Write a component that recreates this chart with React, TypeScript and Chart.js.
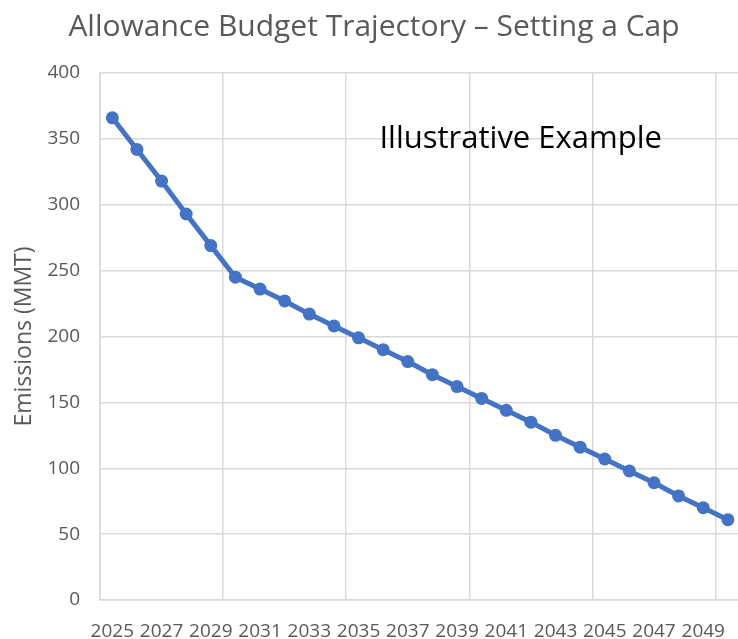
import React, { useEffect, useRef } from "react";
import { Chart, registerables } from "chart.js";

Chart.register(...registerables);

const years: string[] = [
  "2025", "2026", "2027", "2028", "2029", "2030", "2031", "2032", "2033",
  "2034", "2035", "2036", "2037", "2038", "2039", "2040", "2041", "2042",
  "2043", "2044", "2045", "2046", "2047", "2048", "2049", "2050",
];

const emissions: number[] = [
  366, 342, 318, 293, 269, 245, 236, 227, 217, 208, 199, 190, 181, 171, 162,
  153, 144, 135, 125, 116, 107, 98, 89, 79, 70, 61,
];

const yTicks: number[] = [0, 50, 100, 150, 200, 250, 300, 350, 400];

const chartTitle = "Allowance Budget Trajectory \u2013 Setting a Cap";
const yAxisTitle = "Emissions (MMT)";
const noteText = "Illustrative Example";
const noteAnchor = { index: 10.85, value: 350 };

const FONT = "'Open Sans', 'Noto Sans', sans-serif";
const GRID = "#d9d9d9";
const TEXT = "#595959";
const BLUE = "#4472C4";

const notePlugin = {
  id: "note",
  afterDraw(chart: any) {
    const { ctx, scales } = chart;
    const x = scales.x.getPixelForValue(noteAnchor.index);
    const y = scales.y.getPixelForValue(noteAnchor.value);
    ctx.save();
    ctx.font = `31px ${FONT}`;
    ctx.fillStyle = "#000000";
    ctx.textAlign = "left";
    ctx.textBaseline = "middle";
    ctx.fillText(noteText, x, y);
    ctx.restore();
  },
};

export default function App() {
  const ref = useRef<HTMLCanvasElement | null>(null);

  useEffect(() => {
    if (!ref.current) return;
    const chart = new Chart(ref.current, {
      type: "line",
      data: {
        labels: years,
        datasets: [
          {
            data: emissions,
            borderColor: BLUE,
            backgroundColor: BLUE,
            borderWidth: 5,
            pointRadius: 6.5,
            pointBackgroundColor: BLUE,
            pointBorderWidth: 0,
            tension: 0,
          },
        ],
      },
      options: {
        responsive: false,
        animation: false,
        layout: { padding: 0 },
        plugins: {
          legend: { display: false },
          tooltip: { enabled: false },
          title: {
            display: true,
            text: chartTitle,
            color: TEXT,
            font: { family: FONT, size: 30, weight: "normal" },
            padding: { top: 9, bottom: 28 },
          },
        },
        scales: {
          x: {
            type: "category",
            offset: true,
            grid: {
              offset: true,
              drawTicks: false,
              lineWidth: 1.5,
              color: (ctx: any) => (ctx.index % 5 === 0 ? GRID : "rgba(0,0,0,0)"),
            },
            border: { color: GRID, width: 1.5 },
            ticks: {
              autoSkip: false,
              maxRotation: 0,
              minRotation: 0,
              padding: 20,
              color: TEXT,
              font: { family: FONT, size: 19 },
              callback: (_v: any, i: number) => (i % 2 === 0 ? years[i] : ""),
            },
            afterFit: (scale: any) => {
              scale.height = 39;
            },
          },
          y: {
            min: 0,
            max: 400,
            afterBuildTicks: (scale: any) => {
              scale.ticks = yTicks.map((v) => ({ value: v }));
            },
            grid: { drawTicks: false, color: GRID, lineWidth: 1.5 },
            border: { color: GRID, width: 1.5 },
            ticks: {
              padding: 20,
              color: TEXT,
              font: { family: FONT, size: 19 },
            },
            title: {
              display: true,
              text: yAxisTitle,
              color: TEXT,
              font: { family: FONT, size: 23 },
              padding: { top: 11, bottom: 0 },
            },
            afterFit: (scale: any) => {
              scale.width = 100;
            },
          },
        },
      },
      plugins: [notePlugin],
    });
    return () => chart.destroy();
  }, []);

  return (
    <div
      style={{
        position: "fixed",
        left: 0,
        top: 0,
        width: "738px",
        height: "639px",
        overflow: "hidden",
        background: "#ffffff",
      }}
    >
      <canvas ref={ref} width={748} height={639} style={{ display: "block" }} />
    </div>
  );
}
